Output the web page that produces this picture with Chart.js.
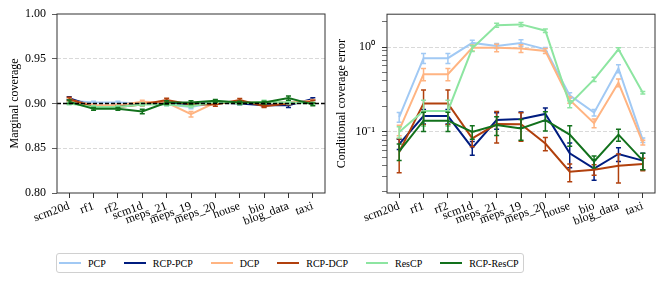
<!DOCTYPE html>
<html><head><meta charset="utf-8">
<script src="https://cdn.jsdelivr.net/npm/chart.js@4"></script>
<style>
html,body{margin:0;padding:0;background:#fff;}
body{width:665px;height:283px;position:relative;overflow:hidden;font-family:"Liberation Serif",serif;}
#c1{position:absolute;left:0;top:0;}
#c2{position:absolute;left:332px;top:0;}
#legend{position:absolute;left:56px;top:253px;height:20px;border:1px solid #d0d0d0;border-radius:3px;display:flex;align-items:center;padding:0 4px 0 2px;font-size:10px;color:#000;box-sizing:border-box;background:#fff;}
.item{display:flex;align-items:center;margin-right:18px;white-space:nowrap;}
.item:last-child{margin-right:0}
.sw{width:22px;height:2px;margin-right:7px;}
</style></head><body>
<canvas id="c1" width="332" height="240"></canvas>
<canvas id="c2" width="333" height="240"></canvas>
<div id="legend"></div>
<script>
const categories = ['scm20d','rf1','rf2','scm1d','meps_21','meps_19','meps_20','house','bio','blog_data','taxi'];
const seriesNames = ['PCP','RCP-PCP','DCP','RCP-DCP','ResCP','RCP-ResCP'];
const seriesColors = ['#a1c9f4','#001c7f','#ffb482','#b1400d','#8de5a1','#12711c'];

// Marginal coverage (left panel)
const covPCP       = [0.903, 0.901, 0.901, 0.900, 0.899, 0.896, 0.901, 0.901, 0.900, 0.901, 0.903];
const covPCPErr    = [0.002, 0.0015, 0.0015, 0.0015, 0.0015, 0.002, 0.0015, 0.0015, 0.0015, 0.0015, 0.0015];
const covRCPPCP    = [0.906, 0.897, 0.897, 0.900, 0.901, 0.899, 0.901, 0.900, 0.898, 0.898, 0.905];
const covRCPPCPErr = [0.0015, 0.0015, 0.0015, 0.0015, 0.0015, 0.0015, 0.0015, 0.0015, 0.0015, 0.0025, 0.0015];
const covDCP       = [0.904, 0.898, 0.898, 0.902, 0.901, 0.888, 0.901, 0.901, 0.901, 0.901, 0.903];
const covDCPErr    = [0.0015, 0.0015, 0.0015, 0.0015, 0.0015, 0.003, 0.0015, 0.0015, 0.0015, 0.0015, 0.0015];
const covRCPDCP    = [0.905, 0.896, 0.896, 0.899, 0.904, 0.899, 0.899, 0.904, 0.897, 0.900, 0.902];
const covRCPDCPErr = [0.002, 0.0015, 0.0015, 0.0015, 0.002, 0.0015, 0.002, 0.0015, 0.0015, 0.0015, 0.0015];
const covResCP     = [0.900, 0.896, 0.896, 0.899, 0.899, 0.897, 0.902, 0.900, 0.902, 0.901, 0.900];
const covResCPErr  = [0.0015, 0.0015, 0.0015, 0.0015, 0.0015, 0.0015, 0.0015, 0.0015, 0.0015, 0.0015, 0.0015];
const covRCPResCP    = [0.902, 0.894, 0.894, 0.891, 0.901, 0.901, 0.903, 0.901, 0.901, 0.906, 0.899];
const covRCPResCPErr = [0.002, 0.0015, 0.0015, 0.0025, 0.002, 0.002, 0.0015, 0.0015, 0.0015, 0.0025, 0.0015];

// Conditional coverage error (right panel)
const ccePCP       = [0.15, 0.74, 0.74, 1.12, 1.03, 1.12, 0.94, 0.27, 0.169, 0.56, 0.08];
const ccePCPErr    = [0.02, 0.1, 0.1, 0.08, 0.07, 0.1, 0.05, 0.02, 0.015, 0.06, 0.005];
const cceRCPPCP    = [0.072, 0.154, 0.154, 0.065, 0.138, 0.142, 0.163, 0.056, 0.037, 0.055, 0.046];
const cceRCPPCPErr = [0.01, 0.03, 0.03, 0.012, 0.03, 0.03, 0.028, 0.018, 0.01, 0.01, 0.01];
const cceDCP       = [0.105, 0.48, 0.48, 0.98, 0.98, 0.965, 0.9, 0.238, 0.127, 0.38, 0.075];
const cceDCPErr    = [0.015, 0.08, 0.08, 0.08, 0.1, 0.1, 0.06, 0.02, 0.015, 0.04, 0.005];
const cceRCPDCP    = [0.058, 0.217, 0.217, 0.084, 0.124, 0.123, 0.073, 0.034, 0.036, 0.04, 0.042];
const cceRCPDCPErr = [0.025, 0.095, 0.095, 0.017, 0.05, 0.045, 0.013, 0.008, 0.005, 0.015, 0.007];
const cceResCP     = [0.1, 0.177, 0.177, 0.965, 1.81, 1.85, 1.56, 0.213, 0.417, 0.94, 0.29];
const cceResCPErr  = [0.015, 0.06, 0.06, 0.08, 0.1, 0.1, 0.07, 0.02, 0.025, 0.04, 0.01];
const cceRCPResCP    = [0.059, 0.136, 0.136, 0.1, 0.121, 0.11, 0.138, 0.093, 0.045, 0.093, 0.046];
const cceRCPResCPErr = [0.013, 0.035, 0.035, 0.018, 0.03, 0.03, 0.035, 0.025, 0.007, 0.015, 0.01];

const targetCoverage = 0.9;
const covTicks = [0.80, 0.85, 0.90, 0.95, 1.00];
const cceTicks = [0.02,0.03,0.04,0.05,0.06,0.07,0.08,0.09,0.1,0.2,0.3,0.4,0.5,0.6,0.7,0.8,0.9,1,2];
const cceMajor = [0.1, 1];
const cceLabels = {'0.1':'10⁻¹', '1':'10⁰'};

const covSeries = [[covPCP,covPCPErr],[covRCPPCP,covRCPPCPErr],[covDCP,covDCPErr],[covRCPDCP,covRCPDCPErr],[covResCP,covResCPErr],[covRCPResCP,covRCPResCPErr]];
const cceSeries = [[ccePCP,ccePCPErr],[cceRCPPCP,cceRCPPCPErr],[cceDCP,cceDCPErr],[cceRCPDCP,cceRCPDCPErr],[cceResCP,cceResCPErr],[cceRCPResCP,cceRCPResCPErr]];

const FONT = "'Liberation Serif', 'Times New Roman', serif";
Chart.defaults.font.family = FONT;
Chart.defaults.color = '#000';

function makeDatasets(series){
  return series.map(([vals, errs], i) => ({
    label: seriesNames[i], data: vals, errors: errs,
    borderColor: seriesColors[i], backgroundColor: seriesColors[i],
    borderWidth: 2, pointRadius: 0, tension: 0, fill: false,
    order: series.length - 1 - i
  }));
}

const errorBarPlugin = {
  id: 'errbars',
  afterDatasetDraw(chart, args){
    const ds = chart.data.datasets[args.index];
    if (!ds.errors) return;
    const y = chart.scales.y, a = chart.chartArea, ctx = chart.ctx;
    ctx.save();
    ctx.beginPath(); ctx.rect(a.left, a.top, a.right - a.left, a.bottom - a.top); ctx.clip();
    ctx.strokeStyle = ds.borderColor; ctx.lineWidth = 1.5;
    args.meta.data.forEach((pt, i) => {
      const v = ds.data[i], e = ds.errors[i];
      const yt = y.getPixelForValue(v + e);
      const lo = v - e;
      const yb = lo > 0 || y.type !== 'logarithmic' ? y.getPixelForValue(lo) : a.bottom + 5;
      const x = pt.x;
      ctx.beginPath();
      ctx.moveTo(x, yt); ctx.lineTo(x, yb);
      ctx.moveTo(x - 2.5, yt); ctx.lineTo(x + 2.5, yt);
      ctx.moveTo(x - 2.5, yb); ctx.lineTo(x + 2.5, yb);
      ctx.stroke();
    });
    ctx.restore();
  }
};

const framePlugin = {
  id: 'frame',
  afterDraw(chart){
    const {ctx, chartArea: a} = chart;
    ctx.save(); ctx.strokeStyle = '#333'; ctx.lineWidth = 1;
    ctx.strokeRect(a.left, a.top, a.right - a.left, a.bottom - a.top);
    ctx.restore();
  }
};

const targetLinePlugin = {
  id: 'target',
  afterDatasetsDraw(chart, args, opts){
    if (opts.value == null) return;
    const {ctx, chartArea: a} = chart;
    const yy = chart.scales.y.getPixelForValue(opts.value);
    ctx.save(); ctx.strokeStyle = '#000'; ctx.lineWidth = 1.5; ctx.setLineDash([4, 2]);
    ctx.beginPath(); ctx.moveTo(a.left, yy); ctx.lineTo(a.right, yy); ctx.stroke();
    ctx.restore();
  }
};

function xScale(){
  return {
    type: 'category', offset: true,
    grid: { drawOnChartArea: false, tickLength: 5, tickColor: '#333', tickWidth: 1 },
    border: { display: false },
    ticks: { font: { size: 12 }, minRotation: 20, maxRotation: 20, autoSkip: false, padding: 1, color: '#000' },
    afterFit(s){ s.height = 47; }
  };
}

new Chart(document.getElementById('c1'), {
  type: 'line',
  data: { labels: categories, datasets: makeDatasets(covSeries) },
  plugins: [errorBarPlugin, framePlugin, targetLinePlugin],
  options: {
    responsive: false, animation: false, devicePixelRatio: 1,
    layout: { padding: { left: 0, right: 7, top: 14, bottom: 0 } },
    plugins: { legend: { display: false }, tooltip: { enabled: false }, target: { value: targetCoverage } },
    scales: {
      x: xScale(),
      y: {
        type: 'linear', min: 0.8, max: 1.0,
        afterBuildTicks(s){ s.ticks = covTicks.map(v => ({ value: v })); },
        ticks: { font: { size: 12 }, padding: 6, color: '#000', callback: v => Number(v).toFixed(2) },
        grid: { tickLength: 5, tickColor: '#333', lineWidth: 0.8,
          color: c => (c.tick && (Math.abs(c.tick.value - 0.85) < 1e-6 || Math.abs(c.tick.value - 0.95) < 1e-6)) ? '#cfcfcf' : 'rgba(0,0,0,0)' },
        border: { display: false, dash: [4, 2] },
        title: { display: true, text: 'Marginal coverage', font: { size: 12 }, color: '#000', padding: { top: 8, bottom: 0 } },
        afterFit(s){ s.width = 57; }
      }
    }
  }
});

new Chart(document.getElementById('c2'), {
  type: 'line',
  data: { labels: categories, datasets: makeDatasets(cceSeries) },
  plugins: [errorBarPlugin, framePlugin],
  options: {
    responsive: false, animation: false, devicePixelRatio: 1,
    layout: { padding: { left: 0, right: 10, top: 14, bottom: 0 } },
    plugins: { legend: { display: false }, tooltip: { enabled: false } },
    scales: {
      x: xScale(),
      y: {
        type: 'logarithmic', min: 0.0191, max: 2.44,
        afterBuildTicks(s){ s.ticks = cceTicks.map(v => ({ value: v, major: cceMajor.includes(v) })); },
        ticks: { font: { size: 12 }, padding: 7, color: '#000', autoSkip: false,
          callback: v => cceLabels[String(v)] || '' },
        grid: { tickLength: 5, tickColor: '#333', lineWidth: 0.8,
          tickWidth: c => (c.tick && cceMajor.includes(c.tick.value)) ? 1 : 0.7,
          color: c => (c.tick && cceMajor.includes(c.tick.value)) ? '#cfcfcf' : 'rgba(0,0,0,0)' },
        border: { display: false, dash: [4, 2] },
        title: { display: true, text: 'Conditional coverage error', font: { size: 12 }, color: '#000', padding: { top: 3, bottom: 0 } },
        afterFit(s){ s.width = 55; }
      }
    }
  }
});

const legend = document.getElementById('legend');
seriesNames.forEach((name, i) => {
  const item = document.createElement('div'); item.className = 'item';
  const sw = document.createElement('span'); sw.className = 'sw'; sw.style.background = seriesColors[i];
  const tx = document.createElement('span'); tx.textContent = name;
  item.appendChild(sw); item.appendChild(tx); legend.appendChild(item);
});
</script>
</body></html>
